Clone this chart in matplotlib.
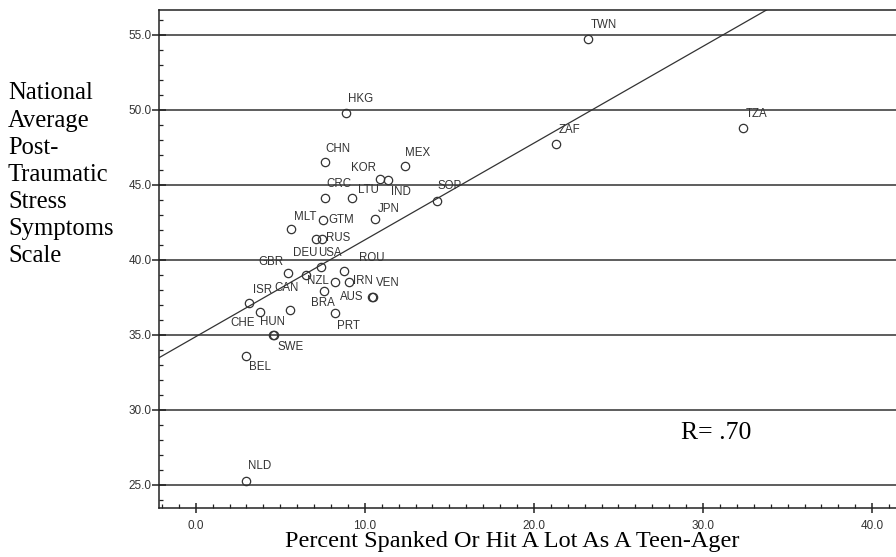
import numpy as np
import matplotlib
matplotlib.use("Agg")
import matplotlib.pyplot as plt
from matplotlib.ticker import MultipleLocator, FormatStrFormatter

# ---- data ----
countries = ["HKG", "CHN", "MEX", "KOR", "IND", "CRC", "LTU", "SOP", "JPN", "MLT",
             "GTM", "RUS", "", "DEU", "USA", "GBR", "ROU", "NZL", "IRN", "VEN",
             "AUS", "BRA", "PRT", "ISR", "CAN", "CHE", "HUN", "SWE", "BEL", "TWN",
             "ZAF", "TZA", "NLD"]
pct_spanked = [8.91, 7.63, 12.38, 10.89, 11.40, 7.65, 9.25, 14.24, 10.61, 5.65,
               7.52, 7.46, 7.10, 6.51, 7.38, 5.48, 8.76, 8.24, 9.07, 10.49,
               10.45, 7.59, 8.24, 3.15, 5.56, 3.79, 4.58, 4.62, 2.98, 23.22,
               21.31, 32.35, 2.98]
ptsd_scale = [49.76, 46.49, 46.23, 45.38, 45.29, 44.11, 44.11, 43.93, 42.69, 42.07,
              42.67, 41.36, 41.36, 39.00, 39.53, 39.13, 39.27, 38.53, 38.49, 37.51,
              37.50, 37.93, 36.43, 37.09, 36.65, 36.53, 34.99, 34.97, 33.58, 54.71,
              47.71, 48.80, 25.27]
x_ticks = [0, 10, 20, 30, 40]
y_ticks = [25, 30, 35, 40, 45, 50, 55]
r_text = "R= .70"
x_title = "Percent Spanked Or Hit A Lot As A Teen-Ager"
y_title = "National\nAverage\nPost-\nTraumatic\nStress\nSymptoms\nScale"

# label offsets (pixels) relative to each point -- style only
label_offsets = {
    "HKG": (14, 14.6), "CHN": (13.3, 13.3), "MEX": (13, 13.6), "KOR": (-16.7, 11.3),
    "IND": (12, -11.4), "CRC": (13.7, 13.7), "LTU": (16.7, 7.7), "SOP": (13.5, 14.7),
    "JPN": (14, 10.3), "MLT": (14.4, 12), "GTM": (18.7, -0.3), "RUS": (16.3, 1),
    "DEU": (-1, 21.4), "USA": (9.3, 14), "GBR": (-17.6, 10.4), "ROU": (27.7, 12.4),
    "NZL": (-17, 1), "IRN": (14, 1.6), "VEN": (15, 13.7), "AUS": (-20.6, 0),
    "BRA": (-1.6, -12), "PRT": (13.7, -12.7), "ISR": (13.4, 13.3), "CAN": (-2.7, 21.7),
    "CHE": (-16.7, -11.6), "HUN": (-1, 12.7), "SWE": (17, -12.3), "BEL": (14, -11.3),
    "TWN": (15, 14), "ZAF": (13.3, 14), "TZA": (13.3, 13.4), "NLD": (13.3, 14.7),
}

W, H, DPI = 896, 557, 100
fig = plt.figure(figsize=(W / DPI, H / DPI), dpi=DPI)
ax = fig.add_axes([159 / W, (H - 508.3) / H, 1 - 159 / W, (508.3 - 10) / H])

ax.set_xlim(-2.17, 41.41)
ax.set_ylim(23.43, 56.65)

ink = "#333333"
for yv in y_ticks:
    ax.axhline(yv, color="#505050", lw=1.3, zorder=1)

x = np.array(pct_spanked)
y = np.array(ptsd_scale)
ax.plot(x, y, linestyle="none", marker="o", markersize=6.0,
        markerfacecolor="none", markeredgecolor=ink, markeredgewidth=0.9, zorder=3)

slope, intercept = np.polyfit(x, y, 1)
xs = np.array([-5, 50])
ax.plot(xs, intercept + slope * xs, color="#333333", lw=0.9, zorder=2)

for name, xv, yv in zip(countries, pct_spanked, ptsd_scale):
    if not name:
        continue
    dx, dy = label_offsets[name]
    ax.annotate(name, (xv, yv), xytext=(dx, dy), textcoords="offset pixels",
                ha="center", va="center", fontsize=8.3, color=ink,
                family="Liberation Sans", zorder=4)

ax.xaxis.set_major_locator(MultipleLocator(10))
ax.xaxis.set_minor_locator(MultipleLocator(1))
ax.yaxis.set_major_locator(MultipleLocator(5))
ax.yaxis.set_minor_locator(MultipleLocator(1))
ax.set_xticks(x_ticks)
ax.set_yticks(y_ticks)
ax.xaxis.set_major_formatter(FormatStrFormatter("%.1f"))
ax.yaxis.set_major_formatter(FormatStrFormatter("%.1f"))

ax.tick_params(axis="x", which="major", direction="inout", length=7, width=1.1,
               color="#222222", pad=5, labelsize=8.5, labelcolor="#333333")
ax.tick_params(axis="y", which="major", direction="inout", length=10, width=1.1,
               color="#222222", pad=0.5, labelsize=8.5, labelcolor="#333333")
ax.tick_params(which="minor", direction="in", length=3, width=0.9, color="#222222")
for lab in ax.get_xticklabels() + ax.get_yticklabels():
    lab.set_family("Liberation Sans")

for s in ["left", "bottom", "top"]:
    ax.spines[s].set_color("#222222")
    ax.spines[s].set_linewidth(1.1)
ax.spines["right"].set_visible(False)

serif = "Liberation Serif"
fig.text(285 / W, (H - 547) / H, x_title, family=serif, fontsize=17.5,
         ha="left", va="baseline", color="black")
fig.text(680.7 / W, (H - 439.3) / H, r_text, family=serif, fontsize=18.5,
         ha="left", va="baseline", color="black")
fig.text(8 / W, (H - 262) / H, y_title, family=serif, fontsize=17.7,
         ha="left", va="baseline", color="black", linespacing=1.30)

fig.savefig("out.png", dpi=DPI)
